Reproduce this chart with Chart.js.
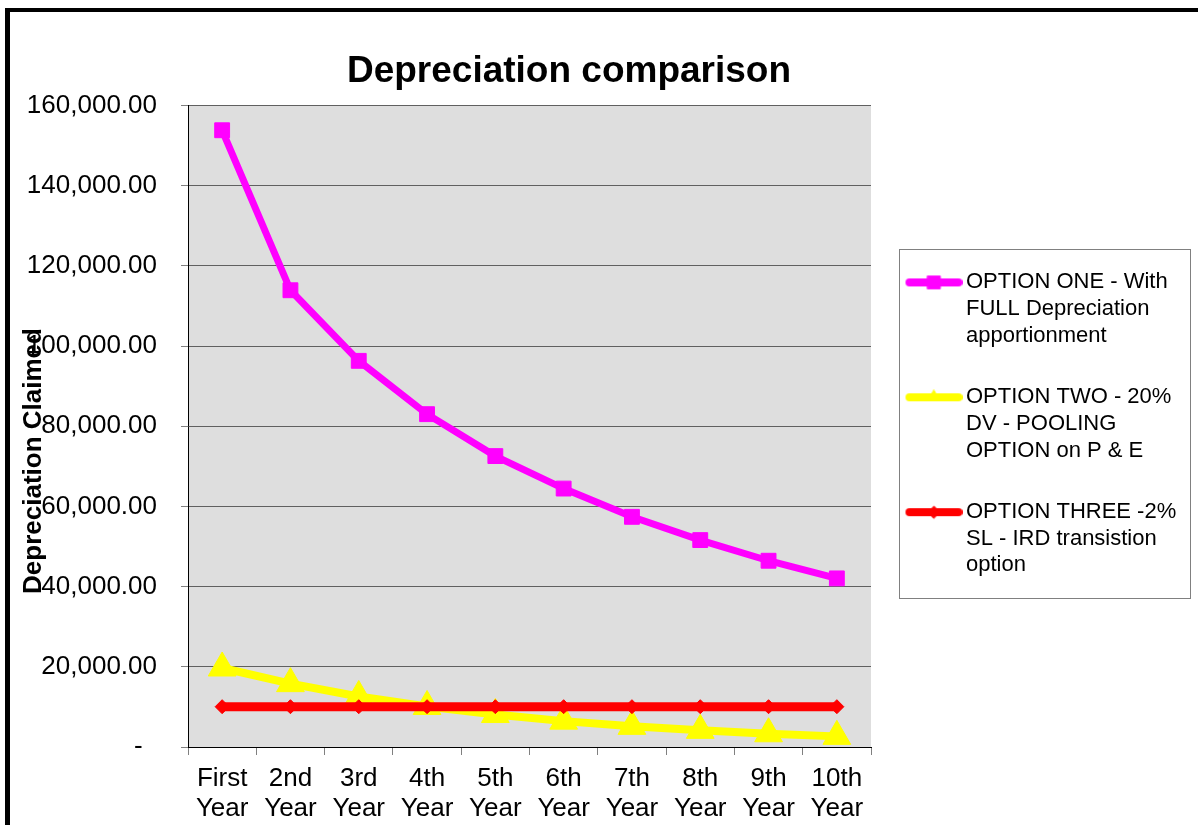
<!DOCTYPE html>
<html>
<head>
<meta charset="utf-8">
<title>Depreciation comparison</title>
<script src="https://cdn.jsdelivr.net/npm/chart.js@4.4.1/dist/chart.umd.min.js"></script>
<style>
  html, body { margin: 0; padding: 0; background: #fff; overflow: hidden; }
  #wrap { position: relative; width: 1198px; height: 825px; }
  /* thick black frame of the original chart object (top + left visible) */
  #frame { position: absolute; left: 5px; top: 8px; width: 1300px; height: 1000px;
           border-left: 5px solid #000; border-top: 4px solid #000; pointer-events: none; }
</style>
</head>
<body>
<div id="wrap">
  <canvas id="depChart"></canvas>
  <div id="frame"></div>
</div>
<script>
// categories
const years = [
  ['First', 'Year'], ['2nd', 'Year'], ['3rd', 'Year'], ['4th', 'Year'], ['5th', 'Year'],
  ['6th', 'Year'], ['7th', 'Year'], ['8th', 'Year'], ['9th', 'Year'], ['10th', 'Year']
];

// series values
const optionOne   = [153800, 113900, 96300, 83000, 72550, 64450, 57400, 51600, 46450, 42050];
const optionTwo   = [19700, 15800, 12600, 10100, 8100, 6450, 5150, 4150, 3300, 2650];
const optionThree = [10050, 10050, 10050, 10050, 10050, 10050, 10050, 10050, 10050, 10050];

const seriesNames = [
  'OPTION ONE - With FULL Depreciation apportionment',
  'OPTION TWO - 20% DV - POOLING OPTION on P & E',
  'OPTION THREE -2% SL - IRD transistion option'
];
// legend text as it wraps in the original
const legendLines = [
  ['OPTION ONE - With', 'FULL Depreciation', 'apportionment'],
  ['OPTION TWO - 20%', 'DV - POOLING', 'OPTION on P & E'],
  ['OPTION THREE -2%', 'SL - IRD transistion', 'option']
];

const yMin = 0, yMax = 160000, yStep = 20000;
const chartTitle = 'Depreciation comparison';
const yAxisTitle = 'Depreciation Claimed';

const FONT = '"Liberation Sans", Arial, sans-serif';
Chart.defaults.font.family = FONT;
Chart.defaults.color = '#000';

const legendBoxWidth = 319;

// little line+marker pictures for the legend
function legendSample(color, marker, radius) {
  const c = document.createElement('canvas');
  c.width = 64; c.height = 16;
  const g = c.getContext('2d');
  g.strokeStyle = color; g.fillStyle = color;
  g.lineWidth = 8; g.lineCap = 'round';
  g.beginPath(); g.moveTo(11, 8); g.lineTo(60, 8); g.stroke();
  g.lineWidth = 1;
  Chart.helpers.drawPoint(g, { pointStyle: marker, radius: radius, borderWidth: 1 }, 35.5, 8);
  return c;
}
const samples = [
  legendSample('#ff00ff', 'rect', 9),
  legendSample('#ffff00', 'triangle', 7),
  legendSample('#ff0000', 'rectRot', 6)
];

// gray plot area
const plotBackground = {
  id: 'plotBackground',
  beforeDraw(chart) {
    const { ctx, chartArea: a } = chart;
    ctx.save();
    ctx.fillStyle = '#dedede';
    ctx.fillRect(a.left, a.top, a.right - a.left, a.bottom - a.top);
    ctx.restore();
  }
};

// legend keeps a fixed width so the plot ends where the original one does
const legendWidthFix = {
  id: 'legendWidthFix',
  beforeLayout(chart) {
    const lg = chart.legend;
    if (lg && !lg._fixedFit) {
      const fit = lg.fit;
      lg.fit = function () { fit.call(this); this.width = legendBoxWidth; };
      lg._fixedFit = true;
    }
  }
};

// y axis title (overlaps the tick labels like the original) and legend frame
const chartDecor = {
  id: 'chartDecor',
  afterDraw(chart) {
    const ctx = chart.ctx;
    ctx.save();
    ctx.translate(41, 461);
    ctx.rotate(-Math.PI / 2);
    ctx.font = 'bold 26px ' + FONT;
    ctx.fillStyle = '#000';
    ctx.textAlign = 'center';
    ctx.textBaseline = 'alphabetic';
    ctx.fillText(yAxisTitle, 0, 0);
    ctx.restore();

    const lg = chart.legend;
    const hb = lg.legendHitBoxes;
    if (!hb || !hb.length) return;
    const last = hb[hb.length - 1];
    const x0 = Math.round(lg.left + 28) + 0.5;
    const x1 = Math.round(lg.right) + 0.5;
    const y0 = Math.round(hb[0].top - 22) + 0.5;
    const y1 = Math.round(last.top + last.height + 17) + 0.5;
    ctx.save();
    ctx.strokeStyle = '#808080';
    ctx.lineWidth = 1;
    ctx.strokeRect(x0, y0, x1 - x0, y1 - y0);
    ctx.restore();
  }
};

const ctx = document.getElementById('depChart').getContext('2d');
new Chart(ctx, {
  type: 'line',
  data: {
    labels: years,
    datasets: [
      {
        label: seriesNames[0], data: optionOne,
        borderColor: '#ff00ff', backgroundColor: '#ff00ff', borderWidth: 7,
        pointStyle: 'rect', pointRadius: 10.5, pointBorderWidth: 1, tension: 0, order: 1
      },
      {
        label: seriesNames[1], data: optionTwo,
        borderColor: '#ffff00', backgroundColor: '#ffff00', borderWidth: 8,
        pointStyle: 'triangle', pointRadius: 16, pointBorderWidth: 1, tension: 0, order: 2
      },
      {
        label: seriesNames[2], data: optionThree,
        borderColor: '#ff0000', backgroundColor: '#ff0000', borderWidth: 9,
        pointStyle: 'rectRot', pointRadius: 7, pointBorderWidth: 1, tension: 0, order: 0
      }
    ]
  },
  options: {
    responsive: true,
    maintainAspectRatio: false,
    animation: false,
    // negative left padding lets the full-width title centre where the original one is
    layout: { padding: { left: -52, right: 8, top: 0, bottom: 0 } },
    plugins: {
      title: {
        display: true, text: chartTitle, color: '#000',
        font: { size: 37, weight: 'bold', lineHeight: 1.2 },
        padding: { top: 50, bottom: 11 }
      },
      legend: {
        position: 'right', align: 'center', fullSize: false,
        labels: {
          color: '#000',
          font: { size: 22, lineHeight: 1.21 },
          padding: 35,
          usePointStyle: true,
          pointStyleWidth: 49,
          generateLabels: chart => Chart.defaults.plugins.legend.labels.generateLabels(chart)
            .sort((a, b) => a.datasetIndex - b.datasetIndex)
            .map(item => Object.assign(item, {
              text: legendLines[item.datasetIndex],
              pointStyle: samples[item.datasetIndex]
            }))
        }
      },
      tooltip: { enabled: false }
    },
    scales: {
      x: {
        offset: true,
        grid: { display: true, drawOnChartArea: false, drawTicks: true, tickLength: 8, tickColor: '#808080', offset: true },
        border: { color: '#000', width: 1 },
        ticks: { color: '#000', font: { size: 26, lineHeight: 1.154 }, padding: 9, maxRotation: 0, autoSkip: false },
        afterFit: scale => { scale.height = 78; }
      },
      y: {
        min: yMin, max: yMax,
        grid: { color: '#606060', tickLength: 7, tickColor: '#808080' },
        border: { color: '#000', width: 1 },
        ticks: {
          stepSize: yStep, color: '#000', font: { size: 26 }, padding: 24,
          callback: v => v === 0 ? '-  ' : v.toLocaleString('en-US', { minimumFractionDigits: 2, maximumFractionDigits: 2 })
        },
        afterFit: scale => { scale.width = 240; }
      }
    }
  },
  plugins: [plotBackground, legendWidthFix, chartDecor]
});
</script>
</body>
</html>
